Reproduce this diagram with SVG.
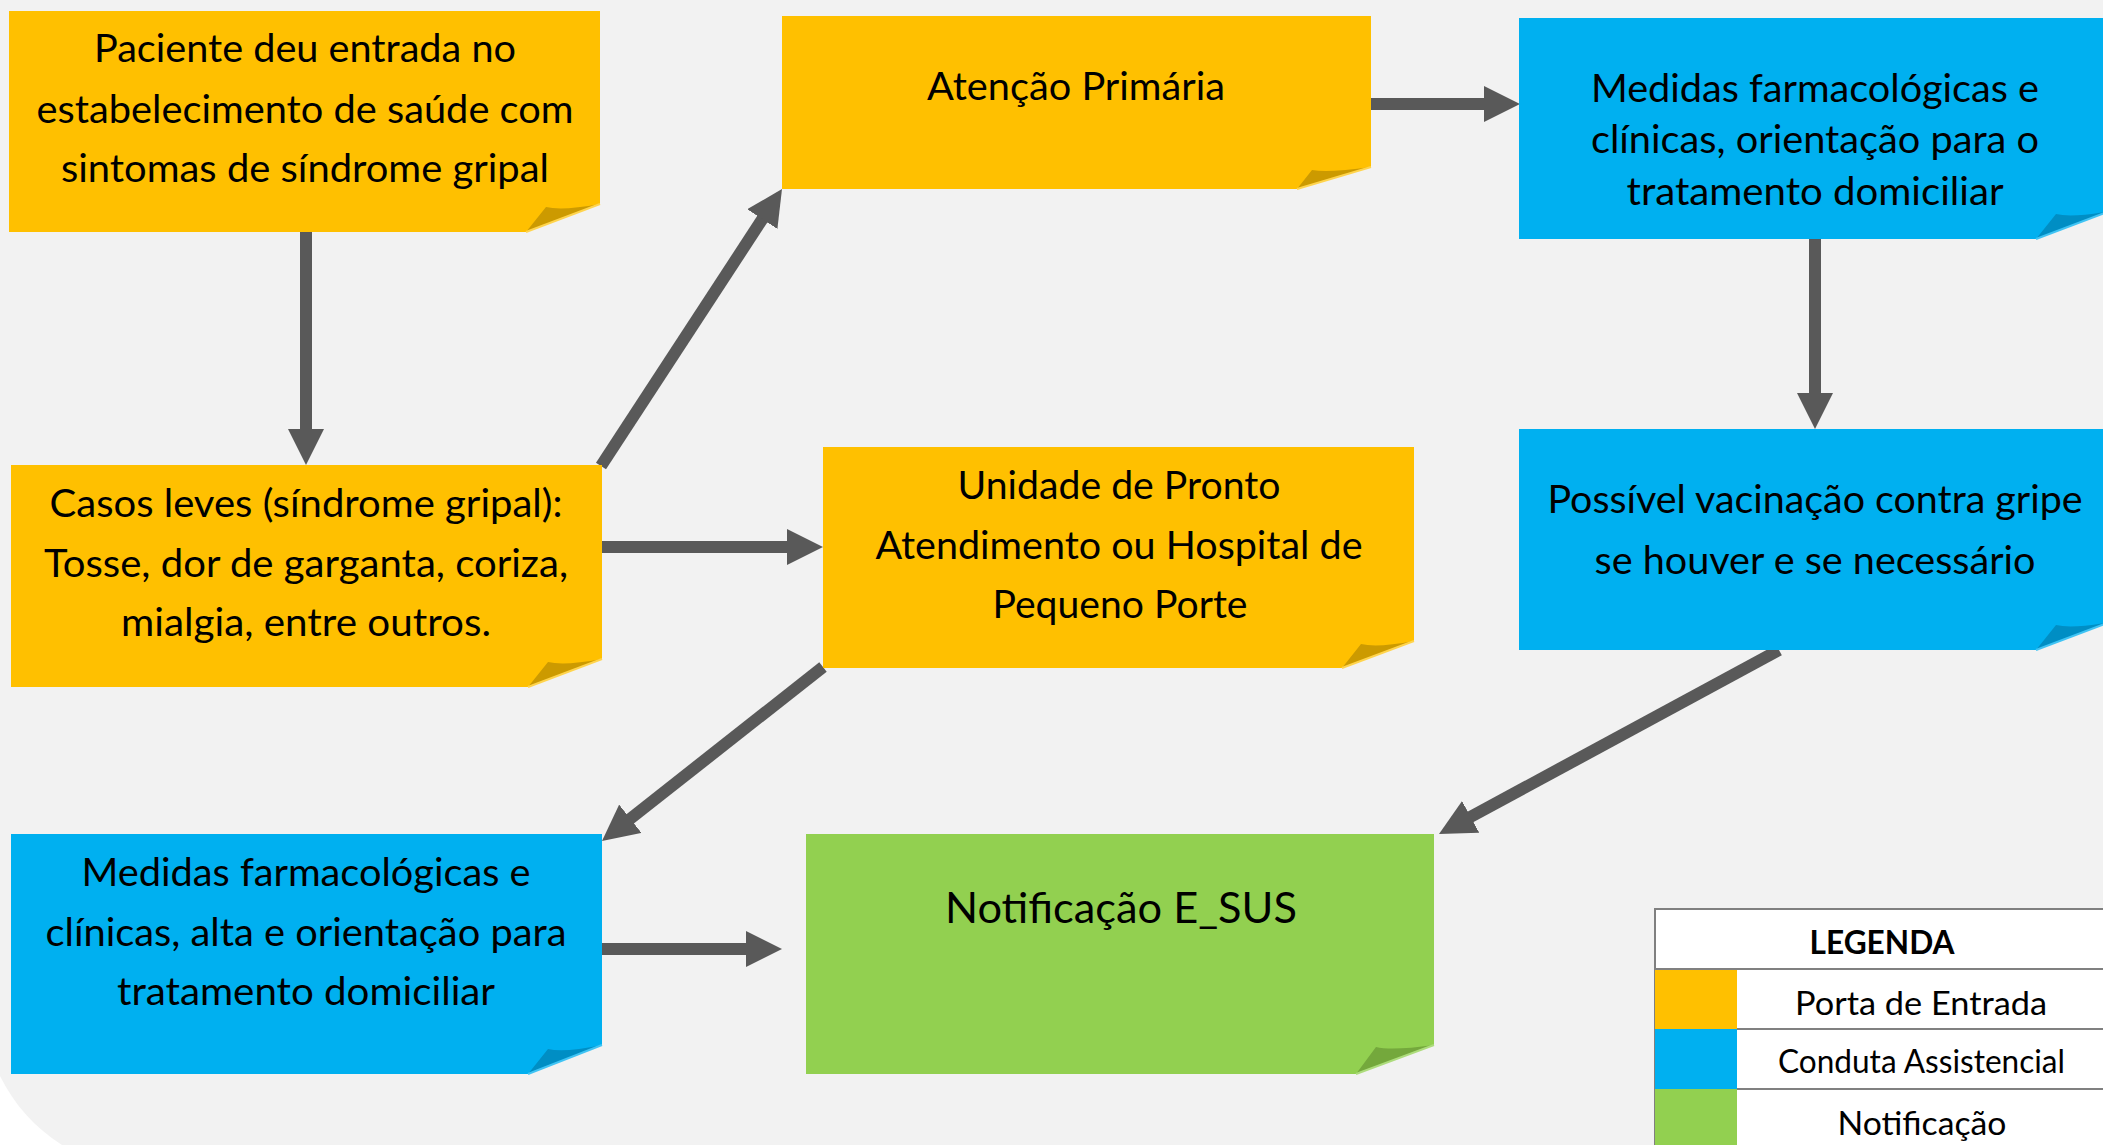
<svg xmlns="http://www.w3.org/2000/svg" width="2103" height="1145" viewBox="0 0 2103 1145">
<defs>
<style>
.t{font-family:Lato,"Open Sans","Liberation Sans",sans-serif;font-size:39px;fill:#000;text-anchor:middle}
.big{font-size:43px}
.lg{font-size:33px}
.b{font-weight:bold}
.y{fill:#FFC000}.yf{fill:#CC9A00}.ys{stroke:#FFD44D;stroke-width:2}
.bl{fill:#00B0F0}.bf{fill:#008EC4}.bs{stroke:#40C4F4;stroke-width:2}
.g{fill:#92D050}.gf{fill:#74A83C}.gs{stroke:#ADDC7C;stroke-width:2}
.c{stroke:#595959;stroke-width:12;fill:none;marker-end:url(#ah)}
.grid{stroke:#808080;stroke-width:2}
</style>
<marker id="ah" markerUnits="userSpaceOnUse" markerWidth="36" markerHeight="36" viewBox="0 0 36 36" refX="3" refY="18" orient="auto">
<path d="M0,0 L36,18 L0,36 Z" fill="#595959"/>
</marker>
</defs>
<rect x="0" y="0" width="2103" height="1145" fill="#F2F2F2"/>
<path d="M0,1076 C14,1104 34,1127 62,1145 L0,1145 Z" fill="#FFFFFF"/>

<g id="connectors">
<line class="c" x1="306" y1="232" x2="306" y2="432"/>
<line class="c" x1="601" y1="466" x2="763.95" y2="216.62"/>
<line class="c" x1="1371" y1="104" x2="1487" y2="104"/>
<line class="c" x1="1815" y1="239" x2="1815" y2="396"/>
<line class="c" x1="602" y1="547" x2="790" y2="547"/>
<line class="c" x1="823" y1="667" x2="627.93" y2="820.59"/>
<line class="c" x1="1779" y1="650" x2="1468.02" y2="818.29"/>
<line class="c" x1="602" y1="949" x2="749" y2="949"/>
</g>

<g id="node-paciente">
<path class="y" d="M9,11 H600 V204 L526,232 H9 Z"/>
<path class="yf" d="M526,232 L546,207 Q562,211 600,204 Z"/>
<line class="ys" x1="526" y1="232" x2="600" y2="204"/>
<text class="t" x="305" y="62" textLength="422" lengthAdjust="spacingAndGlyphs">Paciente deu entrada no</text>
<text class="t" x="305" y="123" textLength="537" lengthAdjust="spacingAndGlyphs">estabelecimento de saúde com</text>
<text class="t" x="305" y="182" textLength="488" lengthAdjust="spacingAndGlyphs">sintomas de síndrome gripal</text>
</g>

<g id="node-atencao">
<path class="y" d="M782,16 H1371 V167 L1297,189 H782 Z"/>
<path class="yf" d="M1297,189 L1312,170 Q1328,173 1371,167 Z"/>
<line class="ys" x1="1297" y1="189" x2="1371" y2="167"/>
<text class="t" x="1076" y="100" textLength="298" lengthAdjust="spacingAndGlyphs">Atenção Primária</text>
</g>

<g id="node-medidas-top">
<path class="bl" d="M1519,18 H2110 V211 L2036,239 H1519 Z"/>
<path class="bf" d="M2036,239 L2056,214 Q2072,218 2110,211 Z"/>
<line class="bs" x1="2036" y1="239" x2="2110" y2="211"/>
<text class="t" x="1815" y="102" textLength="448" lengthAdjust="spacingAndGlyphs">Medidas farmacológicas e</text>
<text class="t" x="1815" y="153" textLength="448" lengthAdjust="spacingAndGlyphs">clínicas, orientação para o</text>
<text class="t" x="1815" y="205" textLength="377" lengthAdjust="spacingAndGlyphs">tratamento domiciliar</text>
</g>

<g id="node-casos">
<path class="y" d="M11,465 H602 V659 L528,687 H11 Z"/>
<path class="yf" d="M528,687 L548,662 Q564,666 602,659 Z"/>
<line class="ys" x1="528" y1="687" x2="602" y2="659"/>
<text class="t" x="306" y="517" textLength="513" lengthAdjust="spacingAndGlyphs">Casos leves (síndrome gripal):</text>
<text class="t" x="306" y="577" textLength="524" lengthAdjust="spacingAndGlyphs">Tosse, dor de garganta, coriza,</text>
<text class="t" x="306" y="636" textLength="370" lengthAdjust="spacingAndGlyphs">mialgia, entre outros.</text>
</g>

<g id="node-unidade">
<path class="y" d="M823,447 H1414 V641 L1342,668 H823 Z"/>
<path class="yf" d="M1342,668 L1361,644 Q1377,648 1414,641 Z"/>
<line class="ys" x1="1342" y1="668" x2="1414" y2="641"/>
<text class="t" x="1119" y="499" textLength="323" lengthAdjust="spacingAndGlyphs">Unidade de Pronto</text>
<text class="t" x="1119" y="559" textLength="487" lengthAdjust="spacingAndGlyphs">Atendimento ou Hospital de</text>
<text class="t" x="1120" y="618" textLength="255" lengthAdjust="spacingAndGlyphs">Pequeno Porte</text>
</g>

<g id="node-vacinacao">
<path class="bl" d="M1519,429 H2110 V622 L2036,650 H1519 Z"/>
<path class="bf" d="M2036,650 L2056,625 Q2072,629 2110,622 Z"/>
<line class="bs" x1="2036" y1="650" x2="2110" y2="622"/>
<text class="t" x="1815" y="513" textLength="535" lengthAdjust="spacingAndGlyphs">Possível vacinação contra gripe</text>
<text class="t" x="1815" y="574" textLength="441" lengthAdjust="spacingAndGlyphs">se houver e se necessário</text>
</g>

<g id="node-medidas-bottom">
<path class="bl" d="M11,834 H602 V1045 L528,1074 H11 Z"/>
<path class="bf" d="M528,1074 L548,1049 Q564,1053 602,1045 Z"/>
<line class="bs" x1="528" y1="1074" x2="602" y2="1045"/>
<text class="t" x="306" y="886" textLength="449" lengthAdjust="spacingAndGlyphs">Medidas farmacológicas e</text>
<text class="t" x="306" y="946" textLength="521" lengthAdjust="spacingAndGlyphs">clínicas, alta e orientação para</text>
<text class="t" x="306" y="1005" textLength="378" lengthAdjust="spacingAndGlyphs">tratamento domiciliar</text>
</g>

<g id="node-notificacao">
<path class="g" d="M806,834 H1434 V1045 L1356,1074 H806 Z"/>
<path class="gf" d="M1356,1074 L1376,1047 Q1392,1051 1434,1045 Z"/>
<line class="gs" x1="1356" y1="1074" x2="1434" y2="1045"/>
<text class="t big" x="1121" y="923" textLength="352" lengthAdjust="spacingAndGlyphs">Notificação E_SUS</text>
</g>

<g id="legend">
<rect x="1655" y="909" width="460" height="250" fill="#FFFFFF" class="grid"/>
<rect x="1655" y="969" width="82" height="60" class="y"/>
<rect x="1655" y="1029" width="82" height="60" class="bl"/>
<rect x="1655" y="1089" width="82" height="60" class="g"/>
<line class="grid" x1="1655" y1="969" x2="2115" y2="969"/>
<line class="grid" x1="1737" y1="1029" x2="2115" y2="1029"/>
<line class="grid" x1="1737" y1="1089" x2="2115" y2="1089"/>
<text class="t lg b" x="1882" y="954" textLength="145" lengthAdjust="spacingAndGlyphs">LEGENDA</text>
<text class="t lg" x="1921" y="1015" textLength="252" lengthAdjust="spacingAndGlyphs">Porta de Entrada</text>
<text class="t lg" x="1921.5" y="1073" textLength="287" lengthAdjust="spacingAndGlyphs">Conduta Assistencial</text>
<text class="t lg" x="1922" y="1135" textLength="169" lengthAdjust="spacingAndGlyphs">Notificação</text>
</g>
</svg>
